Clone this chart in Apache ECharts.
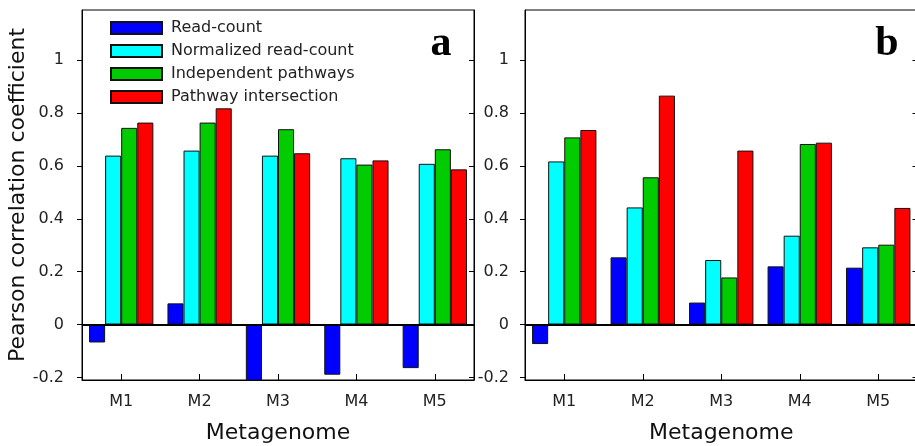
<!DOCTYPE html>
<html>
<head>
<meta charset="utf-8">
<script src="https://cdn.jsdelivr.net/npm/echarts@6/dist/echarts.min.js"></script>
<style>html,body{margin:0;padding:0;background:#fff;}#c{width:915px;height:446px;}</style>
</head>
<body>
<div id="c"></div>
<script>
const categories = ['M1', 'M2', 'M3', 'M4', 'M5'];
const seriesNames = ['Read-count', 'Normalized read-count', 'Independent pathways', 'Pathway intersection'];
const seriesColors = ['#0000ff', '#00ffff', '#00cc00', '#ff0000'];
const aReadCount = [-0.068, 0.080, -0.25, -0.190, -0.165];
const aNormalized = [0.639, 0.658, 0.639, 0.629, 0.608];
const aIndependent = [0.744, 0.764, 0.739, 0.605, 0.663];
const aIntersection = [0.764, 0.818, 0.648, 0.621, 0.587];
const bReadCount = [-0.074, 0.254, 0.083, 0.220, 0.215];
const bNormalized = [0.617, 0.443, 0.244, 0.336, 0.292];
const bIndependent = [0.708, 0.557, 0.178, 0.683, 0.302];
const bIntersection = [0.736, 0.866, 0.658, 0.688, 0.441];
const yTicks = [-0.2, 0, 0.2, 0.4, 0.6, 0.8, 1];
const panelLabels = ['a', 'b'];

const FONT = 'DejaVu Sans';
const YMIN = -0.21, YMAX = 1.19;

function xAxisFor(gi) {
  return {
    type: 'category', gridIndex: gi, data: categories,
    axisLine: { show: true, onZero: false, lineStyle: { color: '#000', width: 1 } },
    axisTick: { show: true, inside: true, length: 6, alignWithLabel: true, lineStyle: { color: '#000' } },
    axisLabel: { margin: 14, fontFamily: FONT, fontSize: 16, color: '#222' },
    name: 'Metagenome', nameLocation: 'middle', nameGap: 42,
    nameTextStyle: { fontFamily: FONT, fontSize: 22, color: '#111' }
  };
}
function yAxisLeft(gi, withName, margin) {
  const ax = {
    type: 'value', gridIndex: gi, min: YMIN, max: YMAX, position: 'left',
    axisLine: { show: true, lineStyle: { color: '#000', width: 1 } },
    axisTick: { show: true, inside: false, length: 5, customValues: yTicks, lineStyle: { color: '#000' } },
    axisLabel: { margin: margin, fontFamily: FONT, fontSize: 16, color: '#222', customValues: yTicks },
    splitLine: { show: false }
  };
  if (withName) {
    ax.name = 'Pearson correlation coefficient';
    ax.nameLocation = 'middle';
    ax.nameGap = 53;
    ax.nameTextStyle = { fontFamily: FONT, fontSize: 22, color: '#111' };
  }
  return ax;
}
function yAxisRight(gi) {
  return {
    type: 'value', gridIndex: gi, min: YMIN, max: YMAX, position: 'right',
    axisLine: { show: true, lineStyle: { color: '#000', width: 1 } },
    axisTick: { show: true, inside: true, length: 5, customValues: yTicks, lineStyle: { color: '#000' } },
    axisLabel: { show: false },
    splitLine: { show: false }
  };
}

const panelData = [
  [aReadCount, aNormalized, aIndependent, aIntersection],
  [bReadCount, bNormalized, bIndependent, bIntersection]
];
const series = [];
panelData.forEach((arrs, gi) => {
  arrs.forEach((vals, si) => {
    const s = {
      type: 'bar', name: seriesNames[si], data: vals,
      xAxisIndex: gi, yAxisIndex: gi * 2,
      barGap: '0%', barCategoryGap: '18%',
      itemStyle: { color: seriesColors[si], borderColor: '#111', borderWidth: 1 },
      emphasis: { disabled: true }
    };
    if (si === 3) {
      s.markLine = {
        silent: true, symbol: ['none', 'none'], label: { show: false },
        lineStyle: { color: '#000', width: 2, type: 'solid' },
        data: [{ yAxis: 0 }], animation: false
      };
    }
    series.push(s);
  });
});

const chart = echarts.init(document.getElementById('c'));
chart.setOption({
  animation: false,
  backgroundColor: '#fff',
  grid: [
    { left: 82, top: 10, width: 392, height: 370, show: true, borderColor: '#000', borderWidth: 1, backgroundColor: 'transparent', outerBoundsMode: 'none', containLabel: false },
    { left: 525, top: 10, width: 392.5, height: 370, show: true, borderColor: '#000', borderWidth: 1, backgroundColor: 'transparent', outerBoundsMode: 'none', containLabel: false }
  ],
  legend: {
    orient: 'vertical', left: 105, top: 15, itemWidth: 51, itemHeight: 12, itemGap: 7,
    icon: 'rect', data: seriesNames, selectedMode: false,
    textStyle: { fontFamily: FONT, fontSize: 16, color: '#222', padding: [0, 0, 0, 4] }
  },
  xAxis: [xAxisFor(0), xAxisFor(1)],
  yAxis: [yAxisLeft(0, true, 18), yAxisRight(0), yAxisLeft(1, false, 16), yAxisRight(1)],
  series: series,
  graphic: [
    { type: 'text', x: 441, y: 44, style: { text: panelLabels[0], font: 'bold 42px "Liberation Serif"', fill: '#000', textAlign: 'center', textVerticalAlign: 'middle' } },
    { type: 'text', x: 887, y: 44, style: { text: panelLabels[1], font: 'bold 42px "Liberation Serif"', fill: '#000', textAlign: 'center', textVerticalAlign: 'middle' } }
  ]
});
</script>
</body>
</html>
